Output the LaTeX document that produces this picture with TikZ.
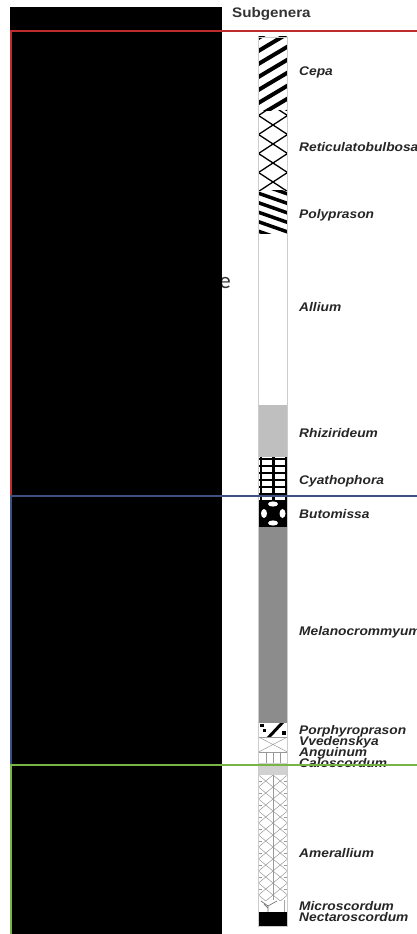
\documentclass[tikz,border=0pt]{standalone}
\usepackage{fontspec}
\newfontfamily\labfont[FakeStretch=1.1]{Liberation Sans}
\newfontfamily\fragfont{Carlito}
\definecolor{redline}{RGB}{190,45,45}
\definecolor{blueline}{RGB}{60,80,130}
\definecolor{greenline}{RGB}{120,180,70}
\begin{document}
\begin{tikzpicture}[x=1pt,y=-1pt,
  lab/.style={anchor=base west, inner sep=0pt, text=black!85,
    font=\labfont\bfseries\itshape\fontsize{12.5}{13}\selectfont},
  head/.style={anchor=base west, inner sep=0pt, text=black!80,
    font=\labfont\bfseries\fontsize{13.8}{14}\selectfont},
  thick stripe/.style={line width=4pt},
  thin hatch/.style={line width=1.3pt},
  light hatch/.style={line width=0.5pt, black!40},
  frameline/.style={line width=1.6pt}]
\useasboundingbox (0,0) rectangle (417,934);
\fill[white] (0,0) rectangle (417,934);

% ---------- column segments ----------
% Cepa
\begin{scope}
  \clip (258.5,37) rectangle (287.5,110);
  \foreach \k in {-1,...,7} \draw[thick stripe] (255,40+13*\k) -- ++(37,-22);
\end{scope}
% Reticulatobulbosa
\begin{scope}
  \clip (258.5,110) rectangle (287.5,190);
  \foreach \k in {0,...,5} {
    \draw[thin hatch] (258.5,106+19*\k+9.5) -- (287.5,106+19*\k-9.5);
    \draw[thin hatch] (258.5,106+19*\k-9.5) -- (287.5,106+19*\k+9.5);
  }
\end{scope}
% Polyprason
\begin{scope}
  \clip (258.5,190) rectangle (287.5,233);
  \foreach \k in {-2,...,5} \draw[line width=3.5pt] (255,192+9.5*\k) -- ++(37,13);
\end{scope}
% Rhizirideum
\fill[black!25] (258.5,405) rectangle (287.5,457);
% Cyathophora
\begin{scope}
  \clip (258.5,457) rectangle (287.5,500);
  \foreach \y in {459,466,...,494} \draw[line width=2.6pt] (258.5,\y) -- (287.5,\y);
  \foreach \x in {261,273.5,286} \draw[line width=2.6pt] (\x,457) -- (\x,500);
\end{scope}
% Butomissa
\begin{scope}
  \clip (258.5,500) rectangle (287.5,527);
  \fill[black] (258.5,500) rectangle (287.5,527);
  \fill[white] (273,504) ellipse (5 and 2.6);
  \fill[white] (273,523) ellipse (5 and 2.6);
  \fill[white] (264,513.5) ellipse (3 and 4.5);
  \fill[white] (282.5,513.5) ellipse (3 and 4.5);
\end{scope}
% Melanocrommyum
\fill[black!45] (258.5,527) rectangle (287.5,723);
% Porphyroprason
\begin{scope}
  \clip (258.5,723) rectangle (287.5,737);
  \draw[line width=3pt] (268,738) -- (283,722);
  \fill (260,724) rectangle (264,727);
  \fill (263,729) rectangle (266,732);
  \fill (282,731) rectangle (286,735);
\end{scope}
% Vvedenskya
\begin{scope}
  \clip (258.5,737) rectangle (287.5,752);
  \draw[light hatch] (258.5,737) -- (287.5,752);
  \draw[light hatch] (258.5,752) -- (287.5,737);
  \draw[light hatch] (258.5,737.5) -- (287.5,737.5);
\end{scope}
% Anguinum
\begin{scope}
  \clip (258.5,752) rectangle (287.5,763);
  \foreach \x in {266,273,280.5} \draw[light hatch] (\x,752) -- (\x,763);
  \draw[light hatch] (258.5,752.5) -- (287.5,752.5);
\end{scope}
% Caloscordum
\fill[black!18] (258.5,763) rectangle (287.5,775);
% Amerallium
\begin{scope}
  \clip (258.5,775) rectangle (287.5,900);
  \draw[light hatch] (273,775) -- (273,900);
  \foreach \k in {0,...,10} {
    \draw[light hatch] (258.5,775+12*\k) -- (273,787+12*\k);
    \draw[light hatch] (258.5,787+12*\k) -- (273,775+12*\k);
    \draw[light hatch] (273,775+12*\k) -- (287.5,787+12*\k);
    \draw[light hatch] (273,787+12*\k) -- (287.5,775+12*\k);
    \draw[light hatch] (258.5,781+12*\k) -- (262,781+12*\k);
    \draw[light hatch] (284,781+12*\k) -- (287.5,781+12*\k);
  }
\end{scope}
% Microscordum
\begin{scope}
  \clip (258.5,900) rectangle (287.5,912);
  \draw[black!55, line width=0.7pt] (268,912) -- (268,906) -- (261,901);
  \draw[black!55, line width=0.7pt] (268,906) -- (277,901);
  \draw[black!55, line width=0.7pt] (268,908) -- (264,904);
  \draw[black!35, line width=0.5pt] (284,900) -- (284,912);
\end{scope}
% Nectaroscordum
\fill[black] (258.5,912) rectangle (287.5,926);
% column outline
\draw[black!20, line width=0.8pt] (258.5,37) rectangle (287.5,926);

% ---------- labels ----------
\node[head] (hd) at (232,17.5) {Subgenera};
\node[lab] (l1) at (299,75) {Cepa};
\node[lab] (l2) at (299,151) {Reticulatobulbosa};
\node[lab] (l3) at (299,218) {Polyprason};
\node[lab] (l4) at (299,311) {Allium};
\node[lab] (l5) at (299,437) {Rhizirideum};
\node[lab] (l6) at (299,484) {Cyathophora};
\node[lab] (l7) at (299,518) {Butomissa};
\node[lab] (l8) at (299,635) {Melanocrommyum};
\node[lab] (l9) at (299,734) {Porphyroprason};
\node[lab] (l10) at (299,745.5) {Vvedenskya};
\node[lab] (l11) at (299,756) {Anguinum};
\node[lab] (l12) at (299,767.5) {Caloscordum};
\node[lab] (l13) at (299,857) {Amerallium};
\node[lab] (l14) at (299,910) {Microscordum};
\node[lab] (l15) at (299,921) {Nectaroscordum};

% partially hidden text fragment
\node[anchor=base east, inner sep=0pt, text=black!80,
  font=\fragfont\fontsize{23}{24}\selectfont] (frag) at (231,288) {e};

% ---------- black panel ----------
\fill[black] (10,7) rectangle (222,934);

% ---------- frame lines ----------
\draw[frameline, redline] (417,31) -- (11,31) -- (11,496);
\draw[frameline, blueline] (417,496) -- (11,496) -- (11,765);
\draw[frameline, greenline] (417,765) -- (11,765) -- (11,934);
\end{tikzpicture}
\end{document}
